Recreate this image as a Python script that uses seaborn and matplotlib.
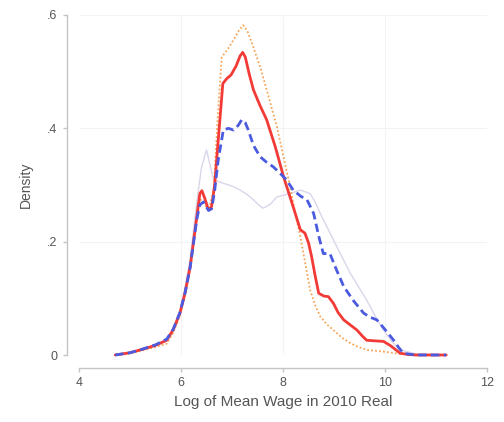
import pandas as pd
import matplotlib.pyplot as plt
import seaborn as sns

# density curves (x = log wage, y = density)
red_x = [4.71, 5.0, 5.2, 5.5, 5.72, 5.85, 5.98, 6.08, 6.18, 6.31, 6.37, 6.41, 6.46, 6.54,
         6.6, 6.66, 6.73, 6.82, 6.9, 6.98, 7.08, 7.16, 7.21, 7.26, 7.34, 7.42, 7.55,
         7.68, 7.85, 8.01, 8.18, 8.34, 8.43, 8.5, 8.56, 8.63, 8.70, 8.8, 8.89, 8.99,
         9.08, 9.19, 9.32, 9.45, 9.55, 9.64, 9.8, 9.97, 10.1, 10.2, 10.3, 10.45, 10.6,
         11.2]
red_y = [0.0, 0.004, 0.009, 0.017, 0.026, 0.045, 0.074, 0.11, 0.156, 0.244, 0.285, 0.29,
         0.278, 0.256, 0.262, 0.3, 0.379, 0.479, 0.488, 0.494, 0.51, 0.528, 0.534, 0.526,
         0.495, 0.468, 0.44, 0.415, 0.367, 0.315, 0.267, 0.221, 0.215, 0.198, 0.174,
         0.14, 0.109, 0.104, 0.103, 0.091, 0.075, 0.062, 0.053, 0.044, 0.034, 0.026,
         0.025, 0.024, 0.017, 0.01, 0.003, 0.001, 0.0, 0.0]

blue_x = [4.71, 5.0, 5.2, 5.5, 5.72, 5.85, 5.98, 6.08, 6.18, 6.31, 6.37, 6.44, 6.54,
          6.6, 6.66, 6.73, 6.83, 6.93, 7.03, 7.12, 7.19, 7.26, 7.32, 7.42, 7.55, 7.68,
          7.81, 7.95, 8.07, 8.2, 8.35, 8.47, 8.6, 8.7, 8.79, 8.92, 9.05, 9.19, 9.38,
          9.58, 9.7, 9.84, 10.0, 10.17, 10.27, 10.36, 10.6, 11.2]
blue_y = [0.0, 0.004, 0.009, 0.018, 0.028, 0.046, 0.075, 0.11, 0.155, 0.24, 0.265, 0.27,
          0.255, 0.258, 0.29, 0.344, 0.397, 0.4, 0.397, 0.405, 0.415, 0.41, 0.397, 0.37,
          0.35, 0.34, 0.332, 0.32, 0.309, 0.291, 0.28, 0.274, 0.25, 0.21, 0.179, 0.179,
          0.15, 0.121, 0.096, 0.074, 0.067, 0.062, 0.045, 0.026, 0.013, 0.003, 0.0, 0.0]

orange_x = [4.71, 5.0, 5.2, 5.5, 5.72, 5.85, 5.98, 6.08, 6.18, 6.31, 6.37, 6.44, 6.54,
            6.64, 6.72, 6.8, 6.92, 7.03, 7.13, 7.22, 7.3, 7.4, 7.55, 7.72, 7.88, 8.01,
            8.14, 8.24, 8.34, 8.44, 8.53, 8.63, 8.73, 8.86, 8.99, 9.15, 9.32, 9.48, 9.64,
            9.97, 10.3, 10.6, 11.2]
orange_y = [0.0, 0.003, 0.007, 0.014, 0.02, 0.04, 0.07, 0.105, 0.15, 0.24, 0.275, 0.27,
            0.255, 0.29, 0.42, 0.526, 0.54, 0.556, 0.572, 0.582, 0.572, 0.548, 0.509,
            0.455, 0.403, 0.35, 0.297, 0.25, 0.209, 0.16, 0.115, 0.088, 0.068, 0.054,
            0.044, 0.031, 0.021, 0.014, 0.009, 0.006, 0.002, 0.0, 0.0]

grey_x = [4.71, 5.0, 5.2, 5.5, 5.72, 5.85, 5.98, 6.08, 6.18, 6.31, 6.4, 6.5, 6.57, 6.64,
          6.83, 7.0, 7.16, 7.3, 7.42, 7.52, 7.61, 7.75, 7.88, 8.14, 8.34, 8.53, 8.63,
          8.73, 8.99, 9.32, 9.64, 9.8, 9.97, 10.15, 10.3, 10.6, 11.2]
grey_y = [0.0, 0.004, 0.009, 0.018, 0.028, 0.048, 0.08, 0.12, 0.17, 0.27, 0.33, 0.362,
          0.335, 0.309, 0.303, 0.298, 0.291, 0.283, 0.274, 0.265, 0.259, 0.266, 0.279,
          0.285, 0.291, 0.285, 0.27, 0.25, 0.203, 0.144, 0.097, 0.07, 0.044, 0.022,
          0.009, 0.002, 0.0]

sns.set_theme(style="white")
plt.rcParams['font.family'] = ['Liberation Sans', 'DejaVu Sans']

fig = plt.figure(figsize=(5.04, 4.22), dpi=100)
ax = fig.add_axes([79 / 504, 67 / 422, 408 / 504, 340 / 422])

series = [
    (grey_x, grey_y, "#dcd5ea", "-", 1.0),
    (orange_x, orange_y, "#f6a65a", (0, (1, 1.2)), 1.3),
    (red_x, red_y, "#f23a36", "-", 2.0),
    (blue_x, blue_y, "#4b5be0", (0, (3, 1.6)), 2.0),
]
for xs, ys, col, ls, lw in series:
    df = pd.DataFrame({"x": xs, "y": ys})
    line = sns.lineplot(data=df, x="x", y="y", ax=ax, color=col, linewidth=lw,
                        estimator=None, sort=False)
    ln = line.lines[-1]
    ln.set_linestyle(ls)
    ln.set_clip_on(False)
    ln.set_solid_joinstyle("round")
    ln.set_dash_joinstyle("round")

ax.set_xlim(4, 12)
ax.set_ylim(0, 0.6)
ax.set_xticks([4, 6, 8, 10, 12])
ax.set_xticklabels(["4", "6", "8", "10", "12"])
ax.set_yticks([0, 0.2, 0.4, 0.6])
ax.set_yticklabels(["0", ".2", ".4", ".6"])

for v in [6, 8, 10]:
    ax.axvline(v, color="#f3f3f3", linewidth=0.8, zorder=0)
for v in [0.2, 0.4, 0.6]:
    ax.axhline(v, color="#f3f3f3", linewidth=0.8, zorder=0)

ax.spines['top'].set_visible(False)
ax.spines['right'].set_visible(False)
ax.spines['left'].set_position(('outward', 9))
ax.spines['bottom'].set_position(('outward', 9.5))
ax.spines['left'].set_bounds(0, 0.6)
ax.spines['bottom'].set_bounds(4, 12)
for s in ['left', 'bottom']:
    ax.spines[s].set_color("#c4c4c4")
    ax.spines[s].set_linewidth(1.0)

ax.tick_params(axis='both', which='both', length=3, width=1, color="#c4c4c4",
               labelsize=9, labelcolor="#555555", direction='out', left=True, bottom=True)
ax.set_xlabel("Log of Mean Wage in 2010 Real", fontsize=11, color="#555555", labelpad=4)
ax.set_ylabel("Density", fontsize=10, color="#555555", labelpad=10)

fig.savefig("out.png", dpi=100)
